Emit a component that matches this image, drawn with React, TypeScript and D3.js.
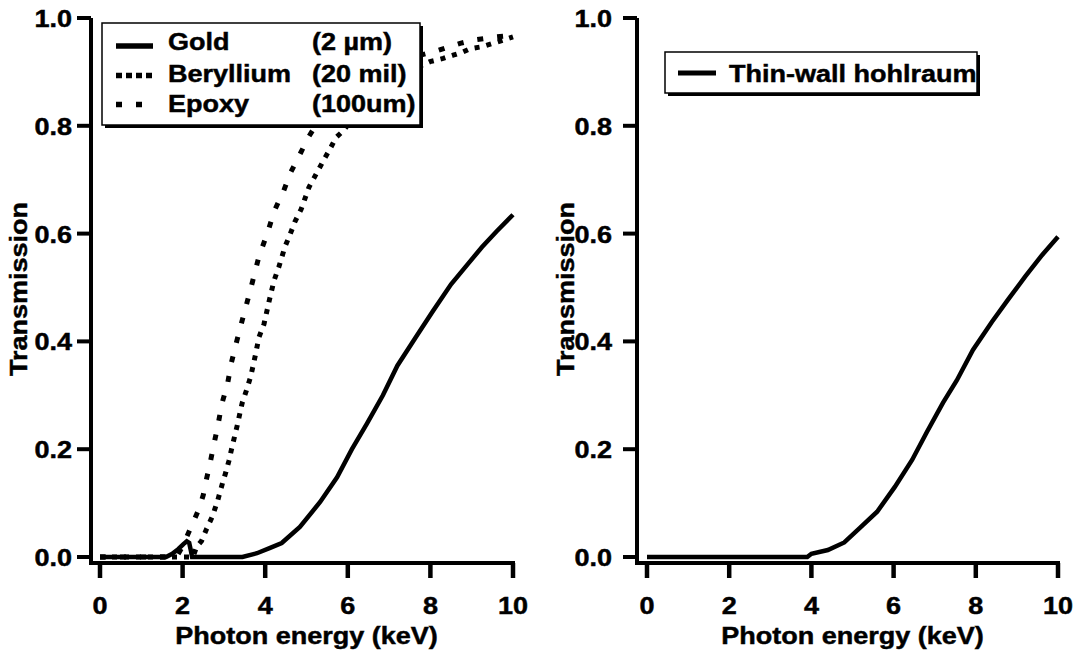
import React from 'react';
import * as d3 from 'd3';

// [energy keV, transmission]
const goldThin = [
    [0, 0], [1.6, 0], [1.75, 0.006], [1.9, 0.015], [2.02, 0.024], [2.1, 0.029], [2.16, 0.026], [2.2, 0.012], [2.23, 0],
    [3.45, 0], [3.8, 0.007], [4.12, 0.017], [4.4, 0.026], [4.84, 0.056], [5.33, 0.102], [5.74, 0.148],
    [6.1, 0.2], [6.46, 0.247], [6.85, 0.3], [7.2, 0.355], [7.65, 0.408], [8.05, 0.455], [8.5, 0.506],
    [8.9, 0.543], [9.25, 0.575], [9.6, 0.604], [10, 0.635],
];
const beryllium = [
    [0, 0], [2.25, 0], [2.34, 0.019], [2.46, 0.03], [2.58, 0.052], [2.72, 0.075], [2.85, 0.105],
    [2.97, 0.138], [3.05, 0.158], [3.12, 0.178], [3.2, 0.205], [3.32, 0.243], [3.44, 0.285],
    [3.55, 0.31], [3.65, 0.335], [3.75, 0.37], [3.85, 0.408], [3.97, 0.432], [4.09, 0.473],
    [4.21, 0.512], [4.33, 0.538], [4.48, 0.576], [4.6, 0.598], [4.72, 0.622], [4.87, 0.645],
    [5.06, 0.686], [5.18, 0.703], [5.3, 0.72], [5.45, 0.741], [5.57, 0.757], [5.71, 0.778],
    [5.88, 0.79], [6.3, 0.83], [6.8, 0.865], [7.3, 0.895], [7.99, 0.919], [8.31, 0.925],
    [8.55, 0.931], [8.79, 0.937], [8.96, 0.943], [9.27, 0.947], [9.52, 0.953], [9.76, 0.959], [10, 0.965],
];
const epoxy = [
    [0, 0], [1.85, 0], [2.0, 0.02], [2.19, 0.053], [2.4, 0.09], [2.5, 0.115], [2.58, 0.145],
    [2.66, 0.172], [2.75, 0.206], [2.86, 0.246], [2.95, 0.284], [3.09, 0.322], [3.18, 0.36],
    [3.31, 0.4], [3.44, 0.438], [3.57, 0.475], [3.7, 0.513], [3.85, 0.558], [4.05, 0.6],
    [4.22, 0.642], [4.45, 0.68], [4.62, 0.714], [4.86, 0.75], [5.04, 0.778], [5.3, 0.81],
    [5.8, 0.85], [6.4, 0.885], [7.0, 0.91], [7.6, 0.928], [8.07, 0.937], [8.47, 0.947],
    [8.72, 0.953], [9.03, 0.959], [9.6, 0.965], [10, 0.968],
];
const hohlraum = [
    [0, 0], [3.9, 0], [4.0, 0.006], [4.4, 0.013], [4.8, 0.027], [5.18, 0.054], [5.6, 0.084],
    [6.03, 0.13], [6.45, 0.18], [6.81, 0.232], [7.2, 0.286], [7.54, 0.328], [7.93, 0.384],
    [8.39, 0.436], [8.78, 0.477], [9.2, 0.52], [9.61, 0.56], [10, 0.594],
];

const xTicks = [0, 2, 4, 6, 8, 10];
const yTicks = [0, 0.2, 0.4, 0.6, 0.8, 1.0];
const xTitle = 'Photon energy (keV)';
const yTitle = 'Transmission';
const leftLegend = [
    { name: 'Gold', size: '(2 µm)', dash: null },
    { name: 'Beryllium', size: '(20 mil)', dash: '6 4' },
    { name: 'Epoxy', size: '(100um)', dash: '6 14' },
];
const rightLegend = 'Thin-wall hohlraum';

const width = 1079;
const height = 654;
const font = '"Liberation Sans", Arial, sans-serif';
const fontSize = 23.5;
const stretch = 1.15;

const y = d3.scaleLinear().domain([0, 1]).range([557, 18]);
const xAxisY = 563;

function Label({ x, y, anchor = 'start', rotate = 0, children }) {
    const t = `translate(${x},${y})${rotate ? ` rotate(${rotate})` : ''} scale(${stretch},1)`;
    return (
        <text transform={t} textAnchor={anchor} fontFamily={font} fontWeight="bold" fontSize={fontSize}
            fill="#000" stroke="#000" strokeWidth={0.45}>
            {children}
        </text>
    );
}

function Axes({ x, axisX, labelEnd, titleX }) {
    const [x0, x1] = x.range();
    return (
        <g>
            <line x1={axisX} x2={axisX} y1={y(1)} y2={xAxisY + 2} stroke="#000" strokeWidth={4} />
            <line x1={axisX - 2} x2={x1 + 2} y1={xAxisY} y2={xAxisY} stroke="#000" strokeWidth={4} />
            {yTicks.map(t => (
                <g key={t}>
                    <line x1={axisX - 14} x2={axisX} y1={y(t)} y2={y(t)} stroke="#000" strokeWidth={4} />
                    <Label x={labelEnd} y={y(t) + 9} anchor="end">{t.toFixed(1)}</Label>
                </g>
            ))}
            {xTicks.map(t => (
                <g key={t}>
                    <line x1={x(t)} x2={x(t)} y1={xAxisY} y2={xAxisY + 15} stroke="#000" strokeWidth={4.5} />
                    <Label x={x(t)} y={614} anchor="middle">{t}</Label>
                </g>
            ))}
            <Label x={(x0 + x1) / 2} y={644} anchor="middle">{xTitle}</Label>
            <Label x={titleX} y={289} anchor="middle" rotate={-90}>{yTitle}</Label>
        </g>
    );
}

function Curve({ data, x, dash, w }) {
    const line = d3.line().x(d => x(d[0])).y(d => y(d[1]));
    return <path d={line(data)} fill="none" stroke="#000" strokeWidth={w} strokeDasharray={dash || undefined} />;
}

function Box({ x, y: top, w, h }) {
    return (
        <g>
            <rect x={x + 3} y={top + 3} width={w} height={h} fill="#000" />
            <rect x={x} y={top} width={w} height={h} fill="#fff" stroke="#000" strokeWidth={1.5} />
        </g>
    );
}

export default function App() {
    const xLeft = d3.scaleLinear().domain([0, 10]).range([100, 513]);
    const xRight = d3.scaleLinear().domain([0, 10]).range([647, 1058]);
    const rowY = [46, 75.5, 104.5];
    const rowBase = [50, 82, 112];
    return (
        <svg width={width} height={height} style={{ display: 'block', position: 'absolute', left: 0, top: 0 }}>
            <rect width={width} height={height} fill="#fff" />
            {/* left panel */}
            <Axes x={xLeft} axisX={91} labelEnd={72} titleX={27} />
            <Curve data={epoxy} x={xLeft} dash="6 14" w={5} />
            <Curve data={beryllium} x={xLeft} dash="5 7" w={5} />
            <Curve data={goldThin} x={xLeft} w={4.5} />
            <Box x={102} y={23} w={318} h={102} />
            {leftLegend.map((d, i) => (
                <g key={d.name}>
                    <line x1={116} x2={153} y1={rowY[i]} y2={rowY[i]} stroke="#000" strokeWidth={5.5}
                        strokeDasharray={d.dash || undefined} />
                    <Label x={168} y={rowBase[i]}>{d.name}</Label>
                    <Label x={312} y={rowBase[i]}>{d.size}</Label>
                </g>
            ))}
            {/* right panel */}
            <Axes x={xRight} axisX={637} labelEnd={612} titleX={574} />
            <Curve data={hohlraum} x={xRight} w={4.5} />
            <Box x={665} y={52} w={312} h={41} />
            <line x1={678} x2={716} y1={73} y2={73} stroke="#000" strokeWidth={5} />
            <Label x={729} y={82}>{rightLegend}</Label>
        </svg>
    );
}
